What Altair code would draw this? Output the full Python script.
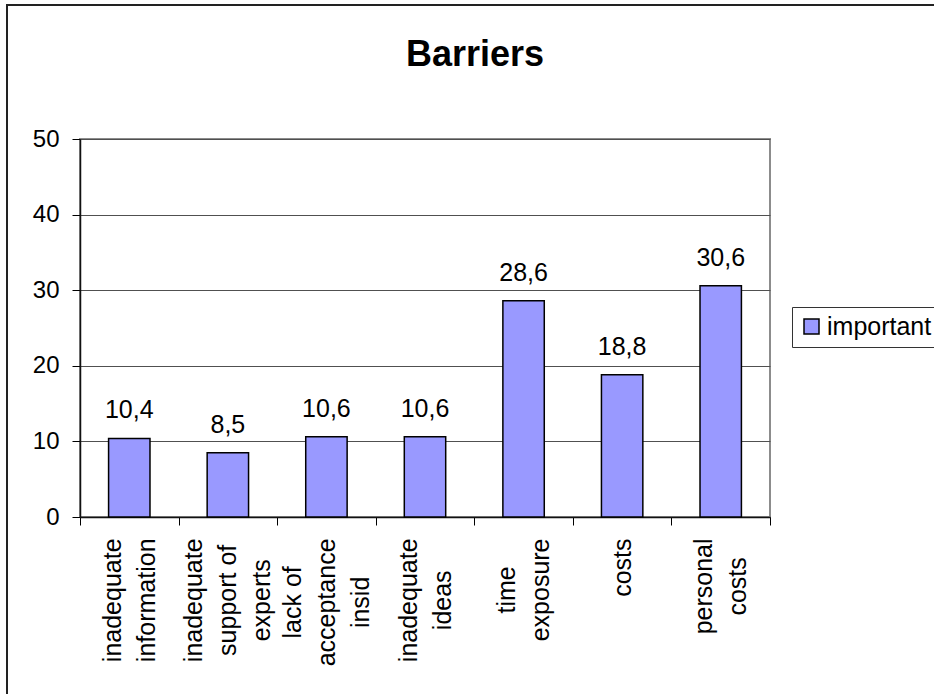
import altair as alt
import pandas as pd

# ---- data -------------------------------------------------------------
label_lines = [
    ["inadequate", "information"],
    ["inadequate", "support of", "experts"],
    ["lack of", "acceptance", "insid"],
    ["inadequate", "ideas"],
    ["time", "exposure"],
    ["costs"],
    ["personal", "costs"],
]
categories = [" ".join(l) for l in label_lines]
values = [10.4, 8.5, 10.6, 10.6, 28.6, 18.8, 30.6]
series = ["important"] * len(values)
y_ticks = [0, 10, 20, 30, 40, 50]

FONT = "Liberation Sans"
XLABEL_SIZE = 25
LINE_H = 34

# Arial advance widths (1/1000 em), used to centre the wrapped labels
ARIAL = {
    "a": 556, "b": 556, "c": 500, "d": 556, "e": 556, "f": 278, "g": 556,
    "h": 556, "i": 222, "j": 222, "k": 500, "l": 222, "m": 833, "n": 556,
    "o": 556, "p": 556, "q": 556, "r": 333, "s": 500, "t": 278, "u": 556,
    "v": 500, "w": 722, "x": 500, "y": 500, "z": 500, " ": 278,
}


def text_width(s, size):
    return sum(ARIAL.get(c, 556) for c in s) * size / 1000


def js(s):
    return "'" + s.replace("'", "\\'") + "'"


label_expr = ""
pad_expr = ""
off_expr = ""
for cat, lines in zip(categories, label_lines):
    arr = "[" + ",".join(js(l) for l in lines) + "]"
    label_expr += f"datum.value === {js(cat)} ? {arr} : "
    w = max(text_width(l, XLABEL_SIZE) for l in lines)
    pad_expr += f"datum.value === {js(cat)} ? {13 + w / 2:.1f} : "
    off_expr += f"datum.value === {js(cat)} ? {-(len(lines) - 1) * LINE_H / 2:.1f} : "
label_expr += "datum.label"
pad_expr += "13"
off_expr += "0"

df = pd.DataFrame({"category": categories, "value": values, "series": series})

x = alt.X(
    "category:N",
    sort=categories,
    title=None,
    scale=alt.Scale(paddingInner=0, paddingOuter=0),
    axis=alt.Axis(
        labelAngle=-90,
        labelAlign="center",
        labelBaseline="middle",
        labelExpr=label_expr,
        labelPadding={"expr": pad_expr},
        labelOffset={"expr": off_expr},
        labelLineHeight=LINE_H,
        labelFont=FONT,
        labelFontSize=XLABEL_SIZE,
        labelColor="black",
        labelOverlap=False,
        labelLimit=300,
        tickBand="extent",
        tickSize=8,
        tickColor="black",
        tickWidth=1,
        domainColor="#111111",
        domainWidth=1.5,
        grid=False,
    ),
)
y = alt.Y(
    "value:Q",
    title=None,
    scale=alt.Scale(domain=[0, 50], nice=False),
    axis=alt.Axis(
        values=y_ticks,
        tickSize=8,
        tickColor="black",
        labelPadding=13,
        labelFont=FONT,
        labelFontSize=24,
        labelColor="black",
        grid=True,
        gridColor="#505050",
        gridWidth=1,
        domainColor="#111111",
        domainWidth=1.5,
    ),
)

border = alt.Chart(alt.Data(values=[{"frame": 1}])).mark_rect(
    fill="transparent", stroke="#222222", strokeWidth=2
).encode(
    x=alt.value(-73), x2=alt.value(900), y=alt.value(-134), y2=alt.value(600)
)

bars = alt.Chart(df).mark_bar(
    width={"band": 0.42}, stroke="black", strokeWidth=1.5
).encode(
    x=x,
    y=y,
    color=alt.Color(
        "series:N",
        scale=alt.Scale(range=["#9999FF"]),
        legend=alt.Legend(
            title=None,
            orient="none",
            legendX=712,
            legendY=168,
            strokeColor="#333333",
            fillColor="white",
            padding=7,
            symbolType="square",
            symbolSize=225,
            symbolStrokeColor="black",
            symbolStrokeWidth=1.5,
            labelFont=FONT,
            labelFontSize=25,
            labelColor="black",
            labelOffset=3,
        ),
    ),
)

labels = alt.Chart(df).transform_calculate(
    lbl="replace(format(datum.value, '.1f'), '.', ',')"
).mark_text(
    font=FONT, fontSize=25, baseline="alphabetic", dy=-20, color="black"
).encode(x=x, y=y, text="lbl:N")

chart = alt.layer(border, bars, labels).properties(
    width=690,
    height=378,
    autosize=alt.AutoSizeParams(type="none"),
    padding={"left": 80, "top": 139, "right": 164, "bottom": 177},
    background="white",
    title=alt.Title(
        "Barriers",
        font=FONT,
        fontSize=36,
        fontWeight="bold",
        color="black",
        anchor="middle",
        baseline="alphabetic",
        dx=50,
        offset=-98,
    ),
).configure_view(stroke="#8c8c8c", strokeWidth=2)

chart.save("out.html", embed_options={"renderer": "svg", "actions": False})
